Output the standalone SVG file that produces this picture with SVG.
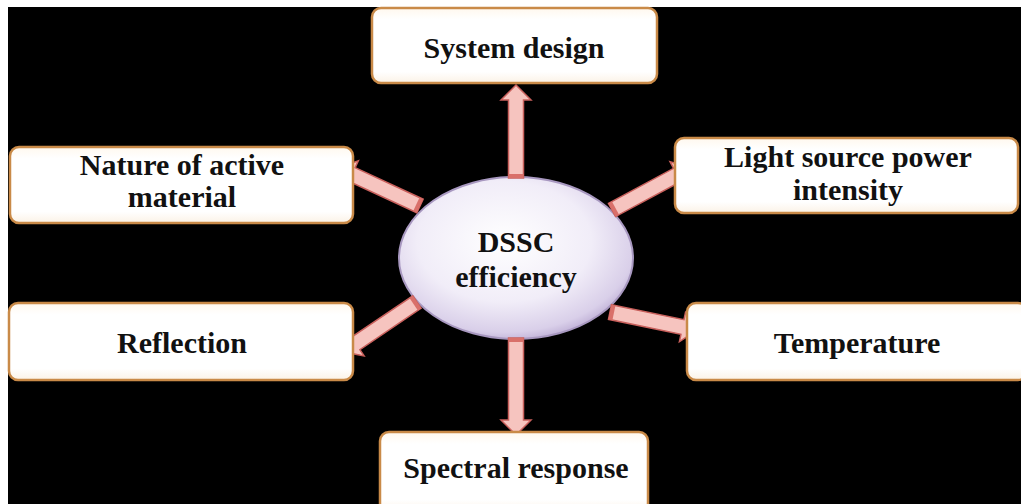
<svg xmlns="http://www.w3.org/2000/svg" width="1021" height="504" viewBox="0 0 1021 504">
<defs>
<radialGradient id="eg" cx="45%" cy="40%" r="62%">
<stop offset="0" stop-color="#ffffff"/>
<stop offset="0.6" stop-color="#f1edf8"/>
<stop offset="0.9" stop-color="#d9cfe9"/>
<stop offset="1" stop-color="#bfb0d6"/>
</radialGradient>
<linearGradient id="bg" x1="0" y1="0" x2="0" y2="1">
<stop offset="0" stop-color="#fff8ee"/>
<stop offset="0.15" stop-color="#ffffff"/>
<stop offset="0.85" stop-color="#ffffff"/>
<stop offset="1" stop-color="#fbf2e6"/>
</linearGradient>
<style>
.box{fill:url(#bg);stroke:#c98a48;stroke-width:2.5}
.t{font-family:"Liberation Serif","Times New Roman",serif;font-weight:bold;font-size:30px;fill:#111;text-anchor:middle}
.arr{fill:#f6c4bf;stroke:#c9605c;stroke-width:1.5;stroke-linejoin:miter}
.band{fill:#d9706a}
</style>
</defs>
<rect x="0" y="0" width="1021" height="504" fill="#ffffff"/>
<rect x="8" y="7" width="1013" height="497" fill="#000000"/>

<g id="center">
<ellipse cx="516" cy="258" rx="117" ry="81" fill="url(#eg)" stroke="#a898c0" stroke-width="2"/>
<text class="t" x="516" y="252">DSSC</text>
<text class="t" x="516" y="287">efficiency</text>
</g>

<g id="connectors">
<g transform="translate(516,178) rotate(-90)"><path class="arr" d="M0,-7.5 L78,-7.5 L78,-15 L93,0 L78,15 L78,7.5 L0,7.5 Z"/><rect class="band" x="0" y="-7.5" width="4" height="15"/></g>
<g transform="translate(516,338) rotate(90)"><path class="arr" d="M0,-7.5 L82,-7.5 L82,-15 L97,0 L82,15 L82,7.5 L0,7.5 Z"/><rect class="band" x="0" y="-7.5" width="4" height="15"/></g>
<g transform="translate(420,206) rotate(-155.1)"><path class="arr" d="M0,-7.5 L75,-7.5 L75,-15 L90,0 L75,15 L75,7.5 L0,7.5 Z"/><rect class="band" x="0" y="-7.5" width="4" height="15"/></g>
<g transform="translate(417,302) rotate(145.95)"><path class="arr" d="M0,-7.5 L74,-7.5 L74,-15 L89,0 L74,15 L74,7.5 L0,7.5 Z"/><rect class="band" x="0" y="-7.5" width="4" height="15"/></g>
<g transform="translate(612,210) rotate(-28.3)"><path class="arr" d="M0,-7.5 L74,-7.5 L74,-15 L89,0 L74,15 L74,7.5 L0,7.5 Z"/><rect class="band" x="0" y="-7.5" width="4" height="15"/></g>
<g transform="translate(610,312) rotate(11.7)"><path class="arr" d="M0,-7.5 L74,-7.5 L74,-15 L89,0 L74,15 L74,7.5 L0,7.5 Z"/><rect class="band" x="0" y="-7.5" width="4" height="15"/></g>
</g>

<g id="system-design">
<rect class="box" x="372" y="8" width="285" height="75" rx="9"/>
<text class="t" x="514" y="58">System design</text>
</g>
<g id="nature">
<rect class="box" x="10" y="147" width="343" height="76" rx="9"/>
<text class="t" x="182" y="175">Nature of active</text>
<text class="t" x="182" y="207">material</text>
</g>
<g id="light-source">
<rect class="box" x="675" y="138" width="343" height="75" rx="9"/>
<text class="t" x="848" y="167">Light source power</text>
<text class="t" x="848" y="200">intensity</text>
</g>
<g id="reflection">
<rect class="box" x="9" y="303" width="344" height="77" rx="9"/>
<text class="t" x="182" y="353">Reflection</text>
</g>
<g id="temperature">
<rect class="box" x="687" y="303" width="340" height="77" rx="9"/>
<text class="t" x="857" y="353">Temperature</text>
</g>
<g id="spectral">
<rect class="box" x="380" y="432" width="268" height="80" rx="9"/>
<text class="t" x="516" y="478">Spectral response</text>
</g>
</svg>
